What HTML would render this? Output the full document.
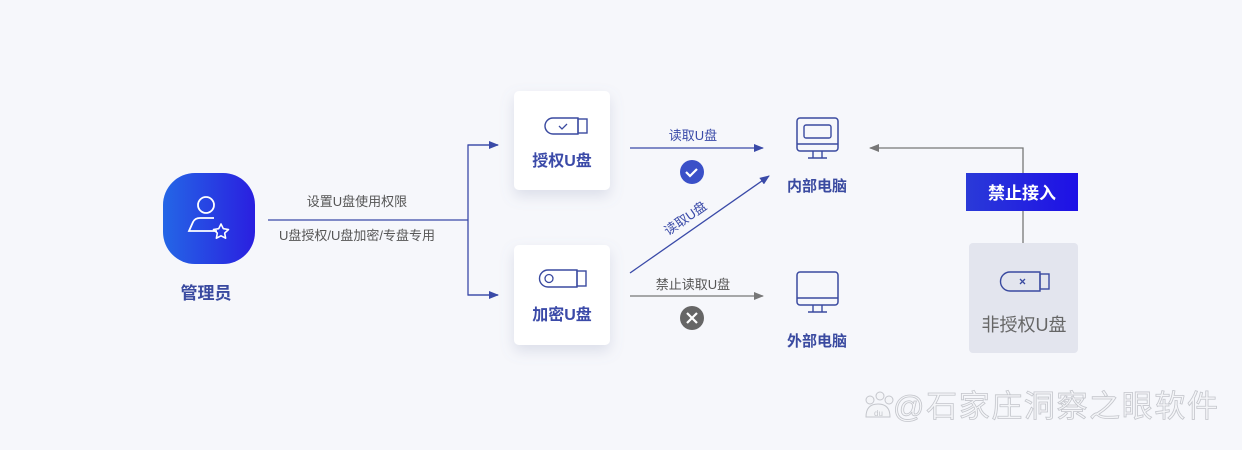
<!DOCTYPE html>
<html><head><meta charset="utf-8"><style>
html,body{margin:0;padding:0;background:#f6f7fb;}
svg{display:block;font-family:"Liberation Sans","Noto Sans CJK SC",sans-serif;}
</style></head><body>
<svg width="1242" height="450" viewBox="0 0 1242 450" xmlns="http://www.w3.org/2000/svg">
<defs>
<linearGradient id="g1" x1="0" y1="0" x2="1" y2="0"><stop offset="0" stop-color="#2466e6"/><stop offset="1" stop-color="#2a1fe0"/></linearGradient>
<linearGradient id="g2" x1="0" y1="0" x2="1" y2="0"><stop offset="0" stop-color="#2a3ad8"/><stop offset="1" stop-color="#1e10e6"/></linearGradient>
<filter id="sh" x="-30%" y="-30%" width="160%" height="170%"><feDropShadow dx="0" dy="6" stdDeviation="7" flood-color="#7a84a8" flood-opacity="0.22"/></filter>
<marker id="ab" markerWidth="10" markerHeight="8" refX="9" refY="4" orient="auto" markerUnits="userSpaceOnUse"><path d="M0,0 L10,4 L0,8 Z" fill="#3a4aa8"/></marker>
<marker id="ag" markerWidth="10" markerHeight="8" refX="9" refY="4" orient="auto" markerUnits="userSpaceOnUse"><path d="M0,0 L10,4 L0,8 Z" fill="#777"/></marker>
</defs>
<rect width="1242" height="450" fill="#f6f7fb"/>

<!-- admin -->
<rect x="163" y="173" width="92" height="91" rx="32" fill="url(#g1)"/>
<circle cx="206" cy="205" r="8" fill="none" stroke="#fff" stroke-width="1.8"/>
<path d="M217 231 H189 L193 222 Q195 218 200 218 H214" fill="none" stroke="#fff" stroke-width="1.8"/>
<path d="M221 224 l2.3 4.7 5.2 .8 -3.8 3.6 .9 5.1 -4.6-2.4 -4.6 2.4 .9-5.1 -3.8-3.6 5.2-.8z" fill="none" stroke="#fff" stroke-width="1.6" stroke-linejoin="round"/>
<text x="206" y="299" text-anchor="middle" font-size="17" fill="#3a4aa0" font-weight="bold">管理员</text>

<line x1="268" y1="220" x2="468" y2="220" stroke="#3a4aa8" stroke-width="1.3"/>
<text x="357" y="206" text-anchor="middle" font-size="13" fill="#555">设置U盘使用权限</text>
<text x="357" y="240" text-anchor="middle" font-size="13" fill="#555">U盘授权/U盘加密/专盘专用</text>
<path d="M498 145 H468 V295 H498" fill="none" stroke="#3a4aa8" stroke-width="1.3"/>
<line x1="468" y1="145" x2="498" y2="145" stroke="#3a4aa8" stroke-width="1.3" marker-end="url(#ab)"/>
<line x1="468" y1="295" x2="498" y2="295" stroke="#3a4aa8" stroke-width="1.3" marker-end="url(#ab)"/>

<!-- cards -->
<rect x="514" y="91" width="96" height="99" rx="5" fill="#fff" filter="url(#sh)"/>
<path d="M553 118 H578 V134 H553 A8 8 0 0 1 553 118 Z" fill="none" stroke="#3a4aa0" stroke-width="1.4"/>
<rect x="578" y="119" width="9" height="14" fill="none" stroke="#3a4aa0" stroke-width="1.4"/>
<path d="M559 126 l3 3 5-5" fill="none" stroke="#3a4aa0" stroke-width="1.3"/>
<text x="562" y="166" text-anchor="middle" font-size="16" fill="#3b4aa8" font-weight="bold">授权U盘</text>

<rect x="514" y="245" width="96" height="100" rx="5" fill="#fff" filter="url(#sh)"/>
<path d="M548 270 H577 V287 H548 A8.5 8.5 0 0 1 548 270 Z" fill="none" stroke="#3a4aa0" stroke-width="1.4"/>
<rect x="577" y="271" width="9" height="15" fill="none" stroke="#3a4aa0" stroke-width="1.4"/>
<circle cx="549" cy="278.5" r="4" fill="none" stroke="#3a4aa0" stroke-width="1.3"/>
<text x="562" y="320" text-anchor="middle" font-size="16" fill="#3b4aa8" font-weight="bold">加密U盘</text>

<!-- middle arrows -->
<line x1="630" y1="148" x2="763" y2="148" stroke="#3a4aa8" stroke-width="1.3" marker-end="url(#ab)"/>
<text x="693" y="140" text-anchor="middle" font-size="13" fill="#3a4aa8">读取U盘</text>
<circle cx="692" cy="172" r="12" fill="#3a50c8"/>
<path d="M686 172 l4 4 7-7" fill="none" stroke="#fff" stroke-width="2.2"/>
<line x1="630" y1="273" x2="769" y2="176" stroke="#3a4aa8" stroke-width="1.3" marker-end="url(#ab)"/>
<text x="0" y="0" font-size="13" fill="#3a4aa8" text-anchor="middle" transform="translate(688 222) rotate(-35)">读取U盘</text>
<line x1="630" y1="296" x2="763" y2="296" stroke="#777" stroke-width="1.3" marker-end="url(#ag)"/>
<text x="693" y="289" text-anchor="middle" font-size="13" fill="#555">禁止读取U盘</text>
<circle cx="692" cy="318" r="12" fill="#666"/>
<path d="M687 313 l10 10 M697 313 l-10 10" stroke="#fff" stroke-width="2.2"/>

<!-- monitors -->
<rect x="797" y="118" width="41" height="33" rx="3" fill="none" stroke="#3a4aa0" stroke-width="1.5"/>
<rect x="804" y="125" width="27" height="13" rx="2" fill="none" stroke="#3a4aa0" stroke-width="1.4"/>
<line x1="797" y1="144" x2="838" y2="144" stroke="#3a4aa0" stroke-width="1.4"/>
<path d="M813 151 V158 M822 151 V158 M808 158 H827" stroke="#3a4aa0" stroke-width="1.4"/>
<text x="817" y="191" text-anchor="middle" font-size="15" fill="#3a4aa0" font-weight="bold">内部电脑</text>

<rect x="797" y="272" width="41" height="33" rx="3" fill="none" stroke="#3a4aa0" stroke-width="1.5"/>
<line x1="797" y1="298" x2="838" y2="298" stroke="#3a4aa0" stroke-width="1.4"/>
<path d="M813 305 V312 M822 305 V312 M808 312 H827" stroke="#3a4aa0" stroke-width="1.4"/>
<text x="817" y="346" text-anchor="middle" font-size="15" fill="#3a4aa0" font-weight="bold">外部电脑</text>

<!-- right -->
<path d="M1023 247 V148 H870" fill="none" stroke="#777" stroke-width="1.3" marker-end="url(#ag)"/>
<rect x="966" y="173" width="112" height="38" fill="url(#g2)"/>
<text x="1022" y="199" text-anchor="middle" font-size="17" fill="#fff" font-weight="bold">禁止接入</text>
<rect x="969" y="243" width="109" height="110" rx="4" fill="#e3e5ee"/>
<path d="M1010 272 H1040 V291 H1010 A9.5 9.5 0 0 1 1010 272 Z" fill="none" stroke="#3a4aa0" stroke-width="1.4"/>
<rect x="1040" y="274" width="9" height="15" fill="none" stroke="#3a4aa0" stroke-width="1.4"/>
<path d="M1020 279 l5 5 M1025 279 l-5 5" stroke="#3a4aa0" stroke-width="1.3"/>
<text x="1024" y="331" text-anchor="middle" font-size="18" fill="#666">非授权U盘</text>

<!-- watermark -->
<g fill="#f4f5f8" stroke="#c4c6cc" stroke-width="1">
<circle cx="870" cy="400" r="4"/><circle cx="880" cy="396" r="4"/><circle cx="889" cy="400" r="4"/>
<path d="M866 417 Q866 404 878 404 Q890 404 890 417 Z"/>
</g>
<text x="874" y="416" font-size="8" fill="#c4c6cc">du</text>
<text x="893" y="417" font-size="31" fill="#f4f5f8" stroke="#c4c6cc" stroke-width="0.8" textLength="325">@石家庄洞察之眼软件</text>
</svg>
</body></html>
